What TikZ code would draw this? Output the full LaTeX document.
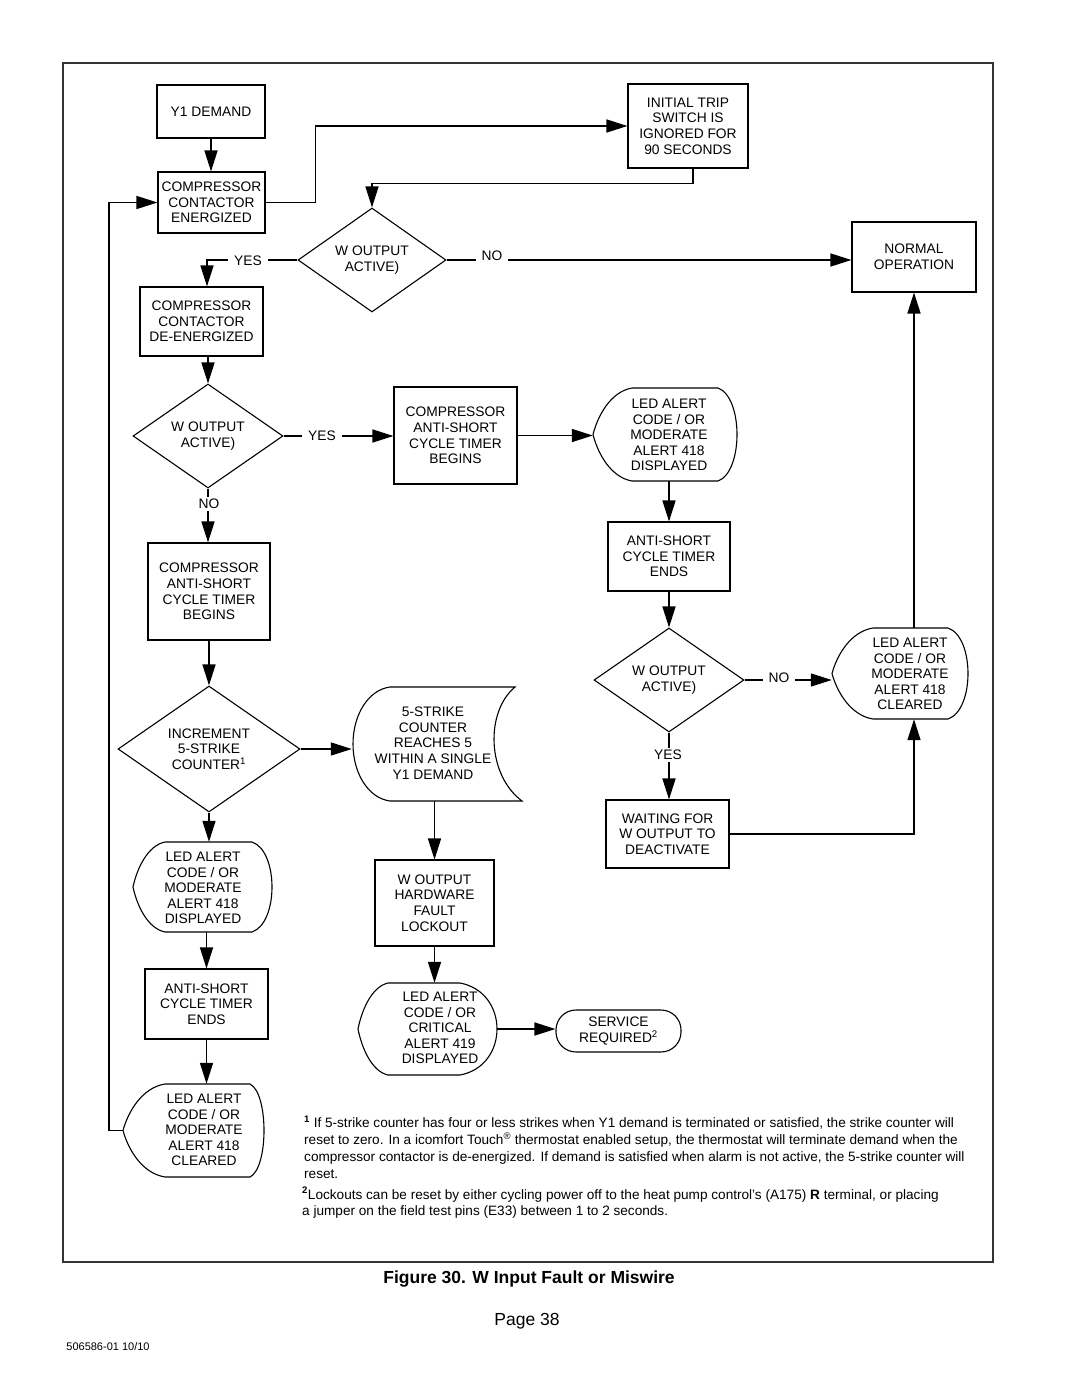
\documentclass[tikz,border=0pt]{standalone}
\usepackage{fontspec}
\setmainfont{Liberation Sans}
\usetikzlibrary{shapes.geometric,arrows.meta,calc}
\newcommand{\dispshape}[6]{% L, I, R, X, T, B
\draw[shp] (#2,#5) -- (#3,#5)
 .. controls ({#3+4/3*(#4-#3)},{#5+0.1*(#6-#5)}) and ({#3+4/3*(#4-#3)},{#6-0.1*(#6-#5)}) .. (#3,#6)
 -- (#2,#6)
 .. controls ({#2-0.55*(#2-#1)},{#6-0.04*(#6-#5)}) and ({#1+0.12*(#2-#1)},{#6-0.3*(#6-#5)}) .. (#1,{(#5+#6)/2})
 .. controls ({#1+0.12*(#2-#1)},{#5+0.3*(#6-#5)}) and ({#2-0.55*(#2-#1)},{#5+0.04*(#6-#5)}) .. cycle;}
\begin{document}
\begin{tikzpicture}[x=1pt,y=-1pt,
  every node/.style={font=\fontsize{13.8}{15.6}\selectfont, align=center, inner sep=0pt},
  procbox/.style={draw=black, line width=1.1pt, rectangle},
  decide/.style={draw=black, diamond, line width=1.1pt, aspect=1.44},
  shp/.style={draw=black, line width=1.1pt},
  anch/.style={rectangle, draw=none},
  conn/.style={line width=1.5pt, -{Triangle[length=21pt,width=13pt]}},
  lbl/.style={fill=white, inner xsep=6pt, inner ysep=2pt},
  note/.style={anchor=north west, align=left, font=\fontsize{13.6}{16.7}\selectfont}]
\useasboundingbox (0,0) rectangle (1080,1397);
\fill[white] (0,0) rectangle (1080,1397);
\draw[line width=2pt, black!80] (63,63) rectangle (993,1262);

% boxes
\node[procbox, minimum width=108pt, minimum height=53pt] (y1) at (211,111.5) {Y1 DEMAND};
\node[procbox, minimum width=107pt, minimum height=61pt] (cce) at (211.5,202.5) {COMPRESSOR\\CONTACTOR\\ENERGIZED};
\node[procbox, minimum width=120pt, minimum height=84pt] (itrip) at (688,126) {INITIAL TRIP\\SWITCH IS\\IGNORED FOR\\90 SECONDS};
\node[procbox, minimum width=124pt, minimum height=70pt] (normal) at (914,257) {NORMAL\\OPERATION};
\node[procbox, minimum width=123pt, minimum height=69pt] (ccde) at (201.5,321.5) {COMPRESSOR\\CONTACTOR\\DE-ENERGIZED};
\node[procbox, minimum width=123pt, minimum height=97pt] (casb) at (455.5,435.5) {COMPRESSOR\\ANTI-SHORT\\CYCLE TIMER\\BEGINS};
\node[procbox, minimum width=122pt, minimum height=69pt] (asce) at (669,556.5) {ANTI-SHORT\\CYCLE TIMER\\ENDS};
\node[procbox, minimum width=123pt, minimum height=68pt] (wait) at (667.5,834) {WAITING FOR\\W OUTPUT TO\\DEACTIVATE};
\node[procbox, minimum width=122pt, minimum height=97pt] (castl) at (209,591.5) {COMPRESSOR\\ANTI-SHORT\\CYCLE TIMER\\BEGINS};
\node[procbox, minimum width=119pt, minimum height=86pt] (wohf) at (434.5,903) {W OUTPUT\\HARDWARE\\FAULT\\LOCKOUT};
\node[procbox, minimum width=123pt, minimum height=70pt] (ascl) at (206.5,1004) {ANTI-SHORT\\CYCLE TIMER\\ENDS};
\node[procbox, rounded corners=20pt, minimum width=125pt, minimum height=42pt] (serv) at (618.5,1031) {SERVICE\\REQUIRED\textsuperscript{2}};

% decisions
\node[decide, minimum width=148pt, minimum height=104pt] (dia1) at (372,260) {W OUTPUT\\ACTIVE)};
\node[decide, minimum width=150pt, minimum height=104pt] (dia2) at (208,436) {W OUTPUT\\ACTIVE)};
\node[decide, minimum width=150pt, minimum height=104pt] (dia3) at (669,680) {W OUTPUT\\ACTIVE)};
\node[decide, minimum width=182pt, minimum height=126pt] (dia4) at (209,749) {INCREMENT\\5-STRIKE\\COUNTER\textsuperscript{1}};

% display shapes
\dispshape{593}{632}{718}{737}{388}{481}
\node[anch, minimum width=144pt, minimum height=93pt] (d1) at (665,434.5) {};
\node (d1t) at (669,435) {LED ALERT\\CODE / OR\\MODERATE\\ALERT 418\\DISPLAYED};
\dispshape{832}{873}{948}{968}{628}{719}
\node[anch, minimum width=136pt, minimum height=91pt] (d2) at (900,673.5) {};
\node (d2t) at (910,674) {LED ALERT\\CODE / OR\\MODERATE\\ALERT 418\\CLEARED};
\dispshape{133}{165}{252}{272}{842}{932}
\node[anch, minimum width=139pt, minimum height=90pt] (d3) at (202.5,887) {};
\node (d3t) at (203,888) {LED ALERT\\CODE / OR\\MODERATE\\ALERT 418\\DISPLAYED};
\dispshape{358}{388}{460}{497}{983}{1075}
\node[anch, minimum width=139pt, minimum height=92pt] (d4) at (427.5,1029) {};
\node (d4t) at (440,1028) {LED ALERT\\CODE / OR\\CRITICAL\\ALERT 419\\DISPLAYED};
\dispshape{123}{165}{250}{264}{1084}{1177}
\node[anch, minimum width=141pt, minimum height=93pt] (d5) at (193.5,1130.5) {};
\node (d5t) at (204,1130) {LED ALERT\\CODE / OR\\MODERATE\\ALERT 418\\CLEARED};

% stored-data shape
\draw[shp] (390,687) -- (515,687) .. controls (485,712) and (487,775) .. (522,801) -- (390,801)
  .. controls (368,798) and (353,773) .. (353,744) .. controls (353,715) and (368,690) .. cycle;
\node[anch, minimum width=168pt, minimum height=114pt] (s5) at (436,744) {};
\node (s5t) at (433,743) {5-STRIKE\\COUNTER\\REACHES 5\\WITHIN A SINGLE\\Y1 DEMAND};

% connectors
\draw[conn] (y1.south) -- (y1.south |- cce.north);
\draw[conn] (cce.east) -- ++(50,0) |- (itrip.west);
\draw[conn] ([xshift=5pt]itrip.south) -- ++(0,15) -| (dia1.north);
\draw[conn] (dia1.west) -| ([xshift=5.5pt]ccde.north);
\node[lbl] (lyes1) at (248,261) {YES};
\draw[conn] (dia1.east) -- (dia1.east -| normal.west);
\node[lbl] (lno1) at (492,256) {NO};
\draw[conn] (ccde.south -| dia2.north) -- (dia2.north);
\draw[conn] (dia2.east) -- (dia2.east -| casb.west);
\node[lbl] (lyes2) at (322,436) {YES};
\draw[conn] (dia2.south) -- (dia2.south |- castl.north);
\node[lbl, inner xsep=1pt] (lno2) at (209,504) {NO};
\draw[conn] (casb.east) -- (casb.east -| d1.west);
\draw[conn] (asce.north |- d1.south) -- (asce.north);
\draw[conn] (asce.south) -- (asce.south |- dia3.north);
\draw[conn] (dia3.east) -- (dia3.east -| d2.west);
\node[lbl] (lno3) at (779,678) {NO};
\draw[conn] (dia3.south) -- (dia3.south |- wait.north);
\node[lbl, inner xsep=1pt] (lyes3) at (668,755) {YES};
\draw[conn] (wait.east) -| (normal.south |- d2.south);
\draw[conn] (normal.south |- d2.north) -- (normal.south);
\draw[conn] (castl.south) -- (castl.south |- dia4.north);
\draw[conn] (dia4.east) -- (dia4.east -| s5.west);
\draw[conn] (dia4.south) -- (dia4.south |- d3.north);
\draw[conn] (ascl.north |- d3.south) -- (ascl.north);
\draw[conn] (ascl.south) -- (ascl.south |- d5.north);
\draw[conn] (d5.west) -- ++(-14,0) |- (cce.west);
\draw[conn] (wohf.north |- s5.south) -- (wohf.north);
\draw[conn] (wohf.south) -- (wohf.south |- d4.north);
\draw[conn] (d4.east) -- (d4.east -| serv.west);

% footnotes
\node[note] (fn1) at (304,1116)
 {\textsuperscript{\bfseries 1} If 5-strike counter has four or less strikes when Y1 demand is terminated or satisfied, the strike counter will\\
 reset to zero. In a icomfort Touch\textsuperscript{®} thermostat enabled setup, the thermostat will terminate demand when the\\
 compressor contactor is de-energized. If demand is satisfied when alarm is not active, the 5-strike counter will\\
 reset.};
\node[note] (fn2) at (302,1187)
 {\textsuperscript{\bfseries 2}Lockouts can be reset by either cycling power off to the heat pump control’s (A175) \textbf{R} terminal, or placing\\
 a jumper on the field test pins (E33) between 1 to 2 seconds.};

\node[font=\fontsize{17.5}{20}\selectfont\bfseries] (title) at (529,1279) {Figure 30. W Input Fault or Miswire};
\node[font=\fontsize{17.5}{20}\selectfont] (page) at (527,1321) {Page 38};
\node[font=\fontsize{11}{13}\selectfont] (code) at (108,1347) {506586-01 10/10};
\end{tikzpicture}
\end{document}
